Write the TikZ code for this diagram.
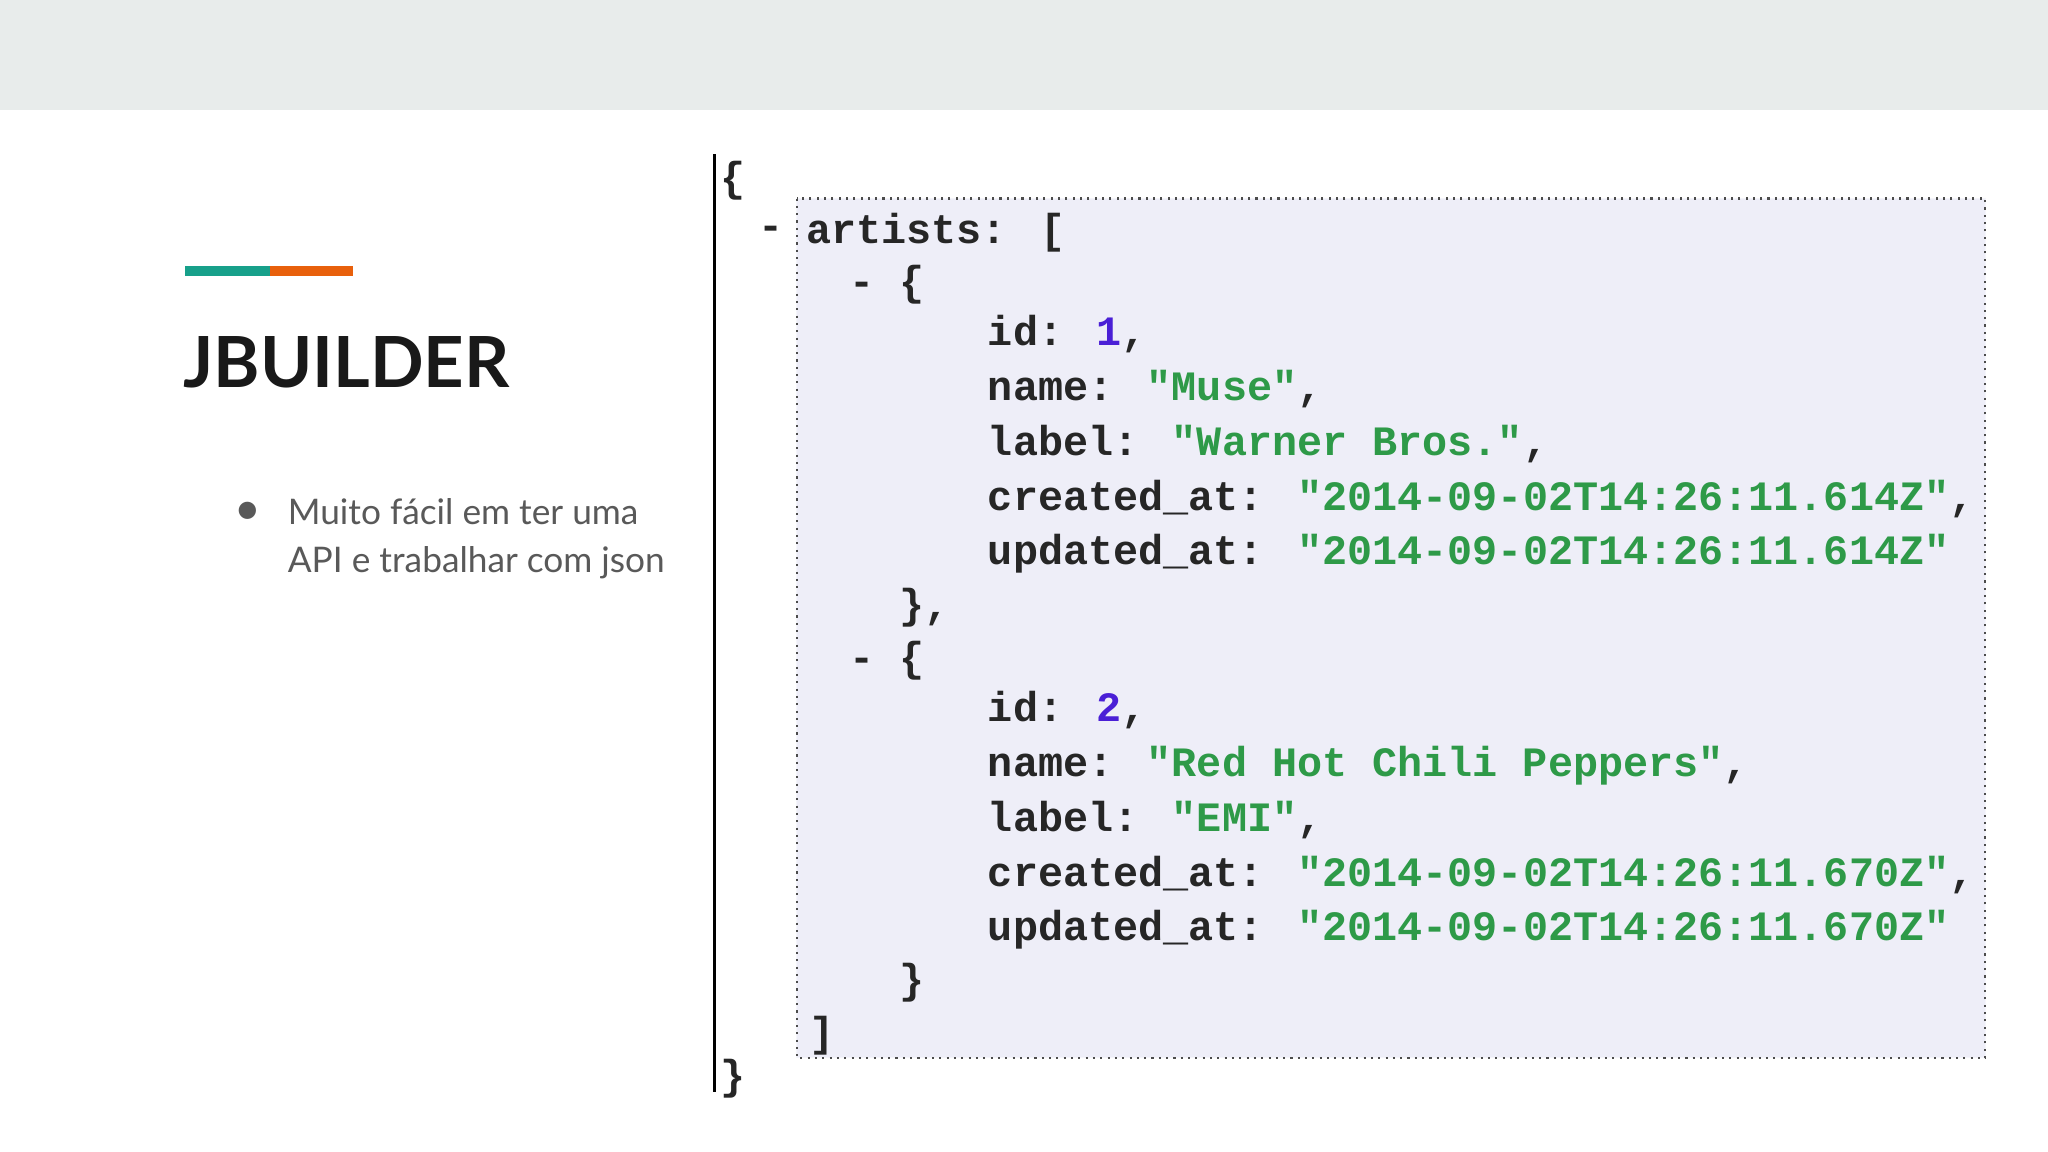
\documentclass[tikz,border=0pt]{standalone}
\usepackage{fontspec}
\setmainfont{Lato}
\newfontfamily\codefont{Liberation Mono}
\definecolor{topbar}{HTML}{E8ECEB}
\definecolor{teal}{HTML}{17A08A}
\definecolor{orng}{HTML}{E8600C}
\definecolor{bodygrey}{HTML}{595959}
\definecolor{panel}{HTML}{EEEEF8}
\definecolor{numc}{HTML}{4A1FD6}
\definecolor{strc}{HTML}{2E9A48}
\begin{document}
\begin{tikzpicture}[x=0.5pt,y=-0.5pt,
  code/.style={anchor=west,inner sep=0pt,font=\codefont\bfseries\fontsize{16}{16}\selectfont,text=black!85},
  body/.style={anchor=west,inner sep=0pt,font=\fontsize{13.5}{13.5}\selectfont,text=bodygrey}]
\fill[white] (0,0) rectangle (1568,882);
\useasboundingbox (0,0) rectangle (1568,882);
\fill[topbar] (0,0) rectangle (1568,84);
\fill[teal] (142,204) rectangle (207,211);
\fill[orng] (207,204) rectangle (270,211);
\node[anchor=west,inner sep=0pt,font=\bfseries\fontsize{27}{27}\selectfont,text=black!90] (title) at (140,277) {JBUILDER};
\node[body] (bul) at (181,392) {●};
\node[body] (l1) at (220,392) {Muito fácil em ter uma};
\node[body] (l2) at (220,431) {API e trabalhar com json};
\draw[black,line width=1.2pt] (547,118) -- (547,836);
\draw[panel!60,fill=panel] (610,152) rectangle (1520,810);
\draw[black!70,dotted,line width=0.8pt] (610,152) rectangle (1520,810);
\node[code] (ob) at (551,138) {\{};
\node[code] (cb) at (551,826) {\}};
\node[code] (d0) at (580,178) {-};
\node[code] (art) at (617,178) {artists: [};
\node[code] (d1) at (650,218) {- \{};
\node[code] (a1) at (756,256) {id: \textcolor{numc}{1},};
\node[code] (a2) at (756,298) {name: \textcolor{strc}{"Muse"},};
\node[code] (a3) at (756,340) {label: \textcolor{strc}{"Warner Bros."},};
\node[code] (a4) at (756,382) {created\_at: \textcolor{strc}{"2014-09-02T14:26:11.614Z"},};
\node[code] (a5) at (756,424) {updated\_at: \textcolor{strc}{"2014-09-02T14:26:11.614Z"}};
\node[code] (c1) at (688,465) {\},};
\node[code] (d2) at (650,506) {- \{};
\node[code] (b1) at (756,544) {id: \textcolor{numc}{2},};
\node[code] (b2) at (756,586) {name: \textcolor{strc}{"Red Hot Chili Peppers"},};
\node[code] (b3) at (756,628) {label: \textcolor{strc}{"EMI"},};
\node[code] (b4) at (756,670) {created\_at: \textcolor{strc}{"2014-09-02T14:26:11.670Z"},};
\node[code] (b5) at (756,712) {updated\_at: \textcolor{strc}{"2014-09-02T14:26:11.670Z"}};
\node[code] (c2) at (688,752) {\}};
\node[code] (c3) at (619,793) {]};
\end{tikzpicture}
\end{document}
